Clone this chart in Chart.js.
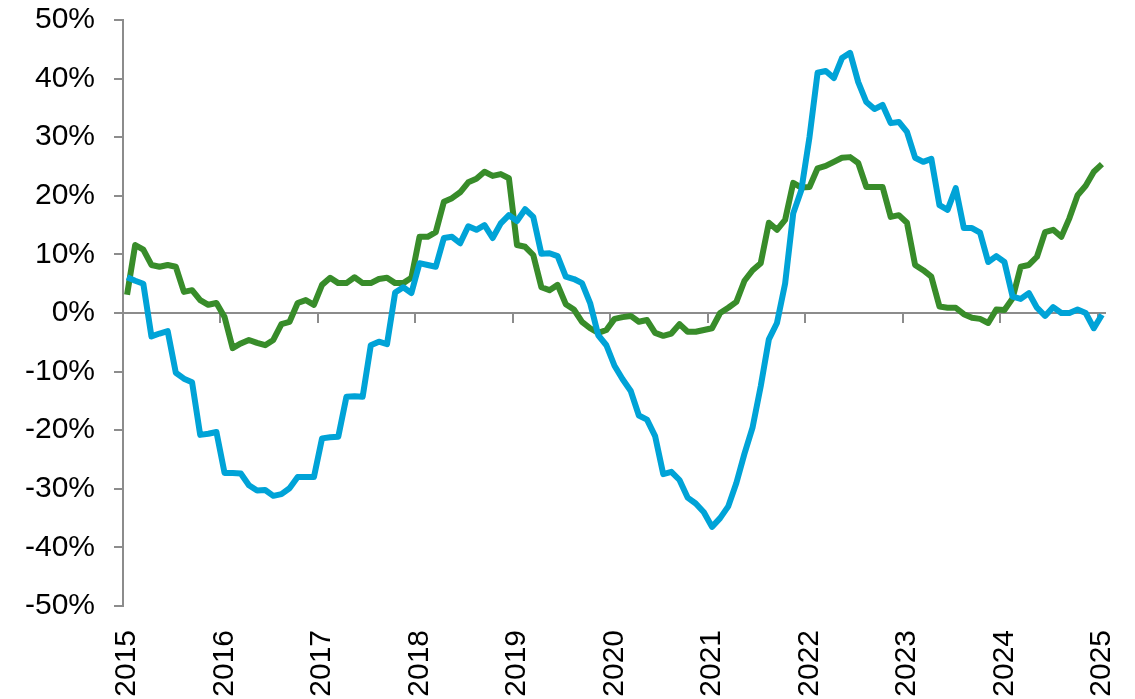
<!DOCTYPE html>
<html>
<head>
<meta charset="utf-8">
<script src="https://cdn.jsdelivr.net/npm/chart.js@4/dist/chart.umd.min.js"></script>
<style>
  html, body { margin: 0; padding: 0; background: #fff; }
  #wrap { width: 1135px; height: 699px; position: relative; }
</style>
</head>
<body>
<div id="wrap"><canvas id="c"></canvas></div>
<script>
// years shown on the axis, data is monthly Jan 2015 .. Jan 2025
var years = [2015, 2016, 2017, 2018, 2019, 2020, 2021, 2022, 2023, 2024, 2025];

// blue series (% y/y)
var blueVals = [
  6.1, 5.5, 5.0, -4.0, -3.5, -3.1, -10.2, -11.2, -11.8, -20.8, -20.6, -20.3,
  -27.3, -27.3, -27.4, -29.4, -30.3, -30.2, -31.2, -30.9, -29.9, -28.0, -28.0, -28.0,
  -21.4, -21.2, -21.1, -14.3, -14.2, -14.3, -5.5, -4.9, -5.3, 3.5, 4.4, 3.4,
  8.5, 8.2, 7.9, 12.8, 13.0, 11.9, 14.8, 14.2, 15.0, 12.8, 15.3, 16.7,
  15.7, 17.7, 16.4, 10.1, 10.2, 9.7, 6.2, 5.8, 5.1, 1.7, -3.8, -5.5,
  -9.0, -11.3, -13.3, -17.5, -18.2, -21.0, -27.5, -27.1, -28.5, -31.5, -32.5, -34.0,
  -36.5, -35.0, -33.0, -29.0, -24.0, -19.5, -12.5, -4.5, -1.7, 5.0, 17.0, 21.0,
  30.0, 41.0, 41.3, 40.1, 43.5, 44.4, 39.4, 36.0, 34.8, 35.5, 32.4, 32.6,
  30.9, 26.5, 25.8, 26.3, 18.4, 17.6, 21.3, 14.5, 14.5, 13.7, 8.7, 9.7,
  8.7, 2.8, 2.4, 3.4, 0.9, -0.5, 1.0, 0.0, 0.0, 0.6, 0.0, -2.6,
  -0.3
];

// green series (% y/y)
var greenVals = [
  3.1, 11.6, 10.8, 8.2, 7.9, 8.2, 7.9, 3.6, 3.9, 2.2, 1.4, 1.7,
  -0.7, -6.0, -5.2, -4.6, -5.1, -5.5, -4.6, -1.9, -1.5, 1.7, 2.2, 1.4,
  4.8, 6.0, 5.1, 5.1, 6.1, 5.1, 5.1, 5.8, 6.0, 5.1, 5.1, 6.0,
  13.0, 13.0, 13.8, 19.0, 19.6, 20.6, 22.3, 22.9, 24.1, 23.4, 23.7, 23.0,
  11.6, 11.3, 9.9, 4.4, 3.9, 4.8, 1.5, 0.6, -1.5, -2.6, -3.4, -2.9,
  -1.0, -0.7, -0.5, -1.5, -1.2, -3.4, -3.9, -3.5, -1.9, -3.2, -3.2, -2.9,
  -2.6, 0.0, 0.9, 1.9, 5.5, 7.3, 8.5, 15.4, 14.2, 15.9, 22.2, 21.4,
  21.5, 24.7, 25.1, 25.8, 26.5, 26.6, 25.6, 21.5, 21.5, 21.5, 16.4, 16.7,
  15.4, 8.2, 7.3, 6.2, 1.1, 0.9, 0.9, -0.2, -0.8, -1.0, -1.7, 0.6,
  0.5, 2.5, 7.9, 8.2, 9.6, 13.8, 14.2, 13.0, 16.2, 20.1, 21.7, 24.1,
  25.4
];

// month labels
var months = [];
for (var i = 0; i < blueVals.length; i++) {
  months.push(years[0] + Math.floor(i / 12) + '-' + ((i % 12) + 1));
}

var axisGrey = '#8c8c8c';
var fontFam = "'Liberation Sans', Arial, sans-serif";

// zero line with year tick marks, drawn under the lines
var zeroLine = {
  id: 'zeroLine',
  beforeDatasetsDraw: function(chart) {
    var ctx = chart.ctx, x = chart.scales.x, y = chart.scales.y;
    var area = chart.chartArea;
    var y0 = Math.round(y.getPixelForValue(0));
    var step = area.width / months.length;
    ctx.save();
    ctx.strokeStyle = axisGrey;
    ctx.lineWidth = 2;
    ctx.beginPath();
    ctx.moveTo(area.left, y0);
    ctx.lineTo(area.right, y0);
    for (var k = 0; k < years.length; k++) {
      var px = Math.round(x.getPixelForValue(k * 12) - step / 2);
      ctx.moveTo(px, y0);
      ctx.lineTo(px, y0 + 10);
    }
    ctx.stroke();
    ctx.restore();
  }
};

// drop the label overhang padding so the plot area is set by layout.padding
function noOverhang(scale) {
  scale.paddingTop = 0;
  scale.paddingBottom = 0;
  scale.paddingLeft = 0;
  scale.paddingRight = 0;
}

var chart = new Chart(document.getElementById('c'), {
  type: 'line',
  data: {
    labels: months,
    datasets: [{
      label: 'Blue',
      data: blueVals,
      borderColor: '#00a3d7',
      borderWidth: 6,
      pointRadius: 0,
      tension: 0,
      borderJoinStyle: 'round'
    }, {
      label: 'Green',
      data: greenVals,
      borderColor: '#388c2a',
      borderWidth: 6,
      pointRadius: 0,
      tension: 0,
      borderJoinStyle: 'round'
    }]
  },
  options: {
    responsive: true,
    maintainAspectRatio: false,
    animation: false,
    layout: { padding: { top: 20, right: 29, left: 0, bottom: 0 } },
    plugins: {
      legend: { display: false },
      tooltip: { enabled: false }
    },
    scales: {
      x: {
        type: 'category',
        offset: true,
        grid: { display: false },
        border: { display: false },
        ticks: {
          autoSkip: false,
          minRotation: 90,
          maxRotation: 90,
          padding: 16,
          color: '#000',
          font: { family: fontFam, size: 30 },
          callback: function(val, idx) {
            return idx % 12 === 0 ? String(years[idx / 12]) : '';
          }
        },
        afterFit: function(scale) { scale.height = 93; noOverhang(scale); }
      },
      y: {
        min: -50,
        max: 50,
        grid: { drawOnChartArea: false, color: axisGrey, lineWidth: 2, tickLength: 9 },
        border: { color: axisGrey, width: 2 },
        ticks: {
          stepSize: 10,
          padding: 19,
          color: '#000',
          font: { family: fontFam, size: 30 },
          callback: function(v) { return v + '%'; }
        },
        afterFit: function(scale) { scale.width = 123; noOverhang(scale); }
      }
    }
  },
  plugins: [zeroLine]
});
</script>
</body>
</html>
